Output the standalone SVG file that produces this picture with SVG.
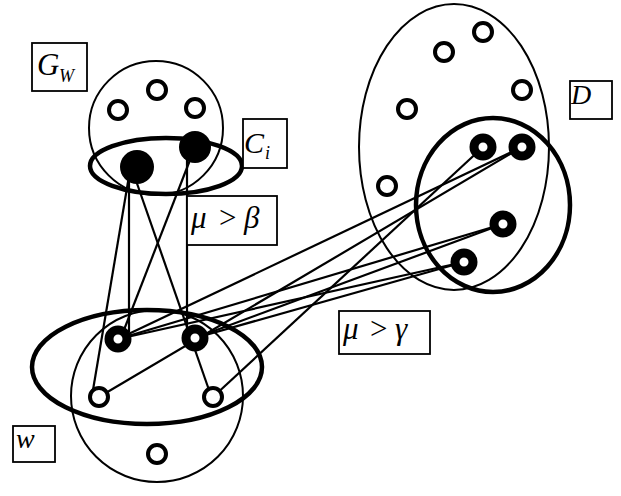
<svg xmlns="http://www.w3.org/2000/svg" width="621" height="496" viewBox="0 0 621 496">
<style>
.region{fill:none;stroke:#000;stroke-width:2}
.cluster{fill:none;stroke:#000;stroke-width:4.5}
.edge{stroke:#000;stroke-width:2.2;fill:none}
.hollow{fill:#fff;stroke:#000;stroke-width:4}
.ring{fill:#fff;stroke:#000;stroke-width:9}
.solid{fill:#000}
.box{fill:#fff;stroke:#000;stroke-width:1.8}
.lbl{font-family:"Liberation Serif","Times New Roman",serif;font-style:italic;fill:#000}
.op{font-family:"Liberation Serif","Times New Roman",serif;fill:#000}
</style>
<rect width="621" height="496" fill="#fff"/>
<g id="regions">
<circle class="region" cx="156" cy="128" r="67"/>
<ellipse class="region" cx="454" cy="147" rx="95" ry="143"/>
<circle class="region" cx="157" cy="396" r="86"/>
</g>
<g id="clusters">
<ellipse id="cluster-Ci" class="cluster" cx="166" cy="166" rx="76" ry="28"/>
<ellipse id="cluster-D" class="cluster" cx="493" cy="205" rx="77" ry="87"/>
<ellipse id="cluster-W" class="cluster" cx="147" cy="367" rx="115" ry="57"/>
</g>
<g id="connectors">
<line class="edge" x1="130" y1="170" x2="93" y2="390"/>
<line class="edge" x1="129" y1="170" x2="129" y2="332"/>
<line class="edge" x1="133" y1="172" x2="209" y2="390"/>
<line class="edge" x1="190" y1="160" x2="122" y2="335"/>
<line class="edge" x1="187" y1="155" x2="187" y2="330"/>
<line class="edge" x1="118" y1="339" x2="522" y2="147"/>
<line class="edge" x1="118" y1="339" x2="503" y2="224"/>
<line class="edge" x1="118" y1="339" x2="464" y2="262"/>
<line class="edge" x1="99" y1="397" x2="522" y2="147"/>
<line class="edge" x1="195" y1="338" x2="503" y2="224"/>
<line class="edge" x1="195" y1="338" x2="464" y2="262"/>
<line class="edge" x1="213" y1="397" x2="483" y2="147"/>
</g>
<g id="gw-h1"><circle class="hollow" cx="118" cy="110" r="9"/></g>
<g id="gw-h2"><circle class="hollow" cx="157" cy="90" r="9"/></g>
<g id="gw-h3"><circle class="hollow" cx="195" cy="108" r="9"/></g>
<g id="ci-1"><circle class="solid" cx="137" cy="167" r="17"/></g>
<g id="ci-2"><circle class="solid" cx="195" cy="147" r="16"/></g>
<g id="d-h1"><circle class="hollow" cx="444" cy="52" r="9"/></g>
<g id="d-h2"><circle class="hollow" cx="483" cy="32" r="9"/></g>
<g id="d-h3"><circle class="hollow" cx="522" cy="90" r="9"/></g>
<g id="d-h4"><circle class="hollow" cx="407" cy="109" r="9"/></g>
<g id="d-h5"><circle class="hollow" cx="387" cy="186" r="9"/></g>
<g id="d-a"><circle class="ring" cx="483" cy="147" r="9"/></g>
<g id="d-b"><circle class="ring" cx="522" cy="147" r="9"/></g>
<g id="d-c"><circle class="ring" cx="503" cy="224" r="9"/></g>
<g id="d-e"><circle class="ring" cx="464" cy="262" r="9"/></g>
<g id="w-l"><circle class="ring" cx="118" cy="339" r="9"/></g>
<g id="w-r"><circle class="ring" cx="195" cy="338" r="9"/></g>
<g id="w-h1"><circle class="hollow" cx="99" cy="397" r="9"/></g>
<g id="w-h2"><circle class="hollow" cx="213" cy="397" r="9"/></g>
<g id="w-h3"><circle class="hollow" cx="157" cy="454" r="9"/></g>
<g id="label-GW">
<rect class="box" x="32" y="43" width="55" height="48"/>
<text class="lbl" x="37" y="75" font-size="31">G</text>
<text class="lbl" x="59" y="82" font-size="18">W</text>
</g>
<g id="label-Ci">
<rect class="box" x="243" y="119" width="44" height="49"/>
<text class="lbl" x="244" y="153" font-size="30">C</text>
<text class="lbl" x="265" y="159" font-size="18">i</text>
</g>
<g id="label-beta">
<rect class="box" x="187" y="196" width="90" height="49"/>
<text class="lbl" x="191" y="228" font-size="31">μ</text>
<text class="op" x="219" y="228" font-size="31">&gt;</text>
<text class="lbl" x="244" y="228" font-size="31">β</text>
</g>
<g id="label-D">
<rect class="box" x="570" y="81" width="42" height="38"/>
<text class="lbl" x="571" y="104" font-size="28">D</text>
</g>
<g id="label-gamma">
<rect class="box" x="339" y="311" width="91" height="43"/>
<text class="lbl" x="343" y="339" font-size="31">μ</text>
<text class="op" x="370" y="339" font-size="31">&gt;</text>
<text class="lbl" x="395" y="339" font-size="31">γ</text>
</g>
<g id="label-w">
<rect class="box" x="13" y="426" width="42" height="36"/>
<text class="lbl" x="16" y="448" font-size="28">w</text>
</g>
</svg>
